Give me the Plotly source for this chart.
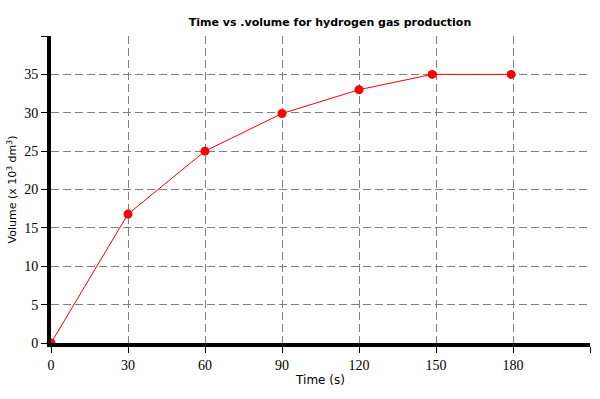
import plotly.graph_objects as go

time_s = [0, 30, 60, 90, 120, 148.5, 179.3]
volume = [0, 16.8, 25, 29.9, 33, 35, 35]

x_ticks = [0, 30, 60, 90, 120, 150, 180, 210]
x_labels = ["0", "30", "60", "90", "120", "150", "180", ""]
y_ticks = [0, 5, 10, 15, 20, 25, 30, 35, 40]
y_labels = ["0", "5", "10", "15", "20", "25", "30", "35", ""]

fig = go.Figure()
fig.add_trace(go.Scatter(
    x=time_s, y=volume, mode="lines+markers",
    line=dict(color="#ff0000", width=1),
    marker=dict(color="#ff0000", size=9),
    showlegend=False, cliponaxis=False,
))

tickfont = dict(family="Liberation Serif", size=14, color="black")
fig.update_layout(
    width=600, height=399,
    margin=dict(l=51, r=10, t=36, b=56),
    paper_bgcolor="white", plot_bgcolor="white",
    title=dict(text="<b>Time vs .volume for hydrogen gas production</b>",
               x=0.55, xanchor="center", y=0.945, yanchor="middle",
               font=dict(family="DejaVu Sans", size=11, color="black")),
    xaxis=dict(range=[0, 210], tickvals=x_ticks, ticktext=x_labels,
               showgrid=True, gridcolor="#808080", gridwidth=1.3, griddash="8px,4px",
               showline=True, linecolor="black", linewidth=4,
               ticks="outside", ticklen=6, tickcolor="black", tickwidth=1,
               tickfont=tickfont, zeroline=False, automargin=False,
               title=dict(text="Time (s)", standoff=5,
                          font=dict(family="DejaVu Sans", size=12, color="black"))),
    yaxis=dict(range=[0, 40], tickvals=y_ticks, ticktext=y_labels,
               showgrid=True, gridcolor="#808080", gridwidth=1.3, griddash="8px,4px",
               showline=True, linecolor="black", linewidth=4,
               ticks="outside", ticklen=6, tickcolor="black", tickwidth=1,
               tickfont=tickfont, zeroline=False, automargin=False,
               title=dict(text="Volume (x 10<sup>3</sup> dm<sup>3</sup>)", standoff=6,
                          font=dict(family="DejaVu Sans", size=11, color="black"))),
)

fig.write_html("out.html", config={"displayModeBar": False},
               post_script="document.body.style.margin='0';")
